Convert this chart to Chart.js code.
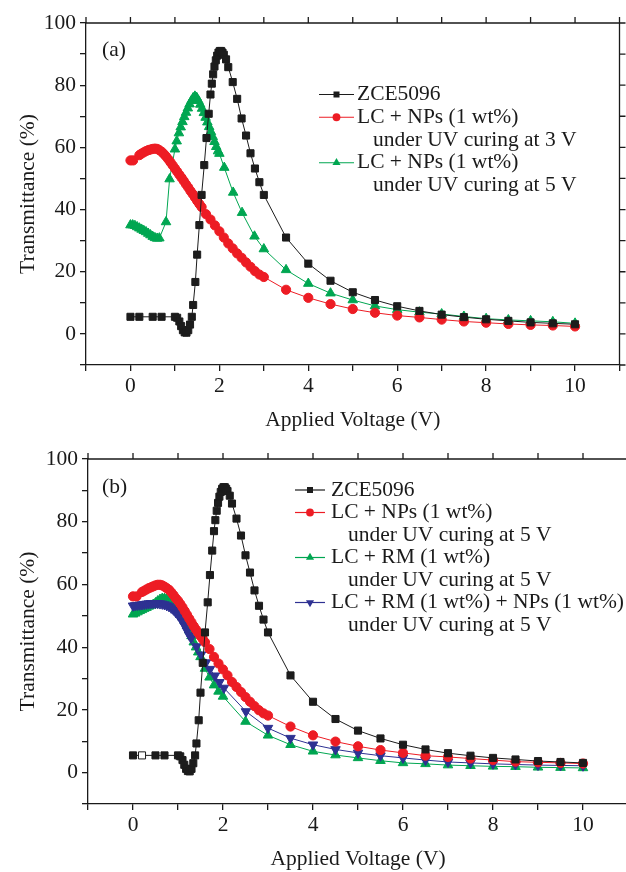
<!DOCTYPE html>
<html>
<head>
<meta charset="utf-8">
<script src="https://cdn.jsdelivr.net/npm/chart.js@4.4.1/dist/chart.umd.min.js"></script>
<style>
  html, body { margin: 0; padding: 0; background: #fff; overflow: hidden; width: 626px; height: 872px; }
  #wrapA { position: absolute; left: 0; top: 0; width: 626px; height: 436px; }
  #wrapB { position: absolute; left: 0; top: 436px; width: 640px; height: 436px; }
</style>
</head>
<body>
<div id="wrapA"><canvas id="chartA" width="626" height="436"></canvas></div>
<div id="wrapB"><canvas id="chartB" width="640" height="436"></canvas></div>
<script>
// ZCE5096 (same host LC in both panels)
const blackV = [0, 0.2, 0.5, 0.7, 1.0, 1.05, 1.1, 1.14, 1.18, 1.22, 1.26, 1.3, 1.34, 1.38, 1.41, 1.46, 1.5, 1.55, 1.6, 1.66, 1.71, 1.76, 1.8, 1.83, 1.86, 1.89, 1.92, 1.95, 1.98, 2.01, 2.04, 2.07, 2.1, 2.15, 2.2, 2.3, 2.4, 2.5, 2.6, 2.7, 2.8, 2.9, 3.0, 3.5, 4.0, 4.5, 5.0, 5.5, 6.0, 6.5, 7.0, 7.5, 8.0, 8.5, 9.0, 9.5, 10];
const blackT = [5.5, 5.5, 5.5, 5.5, 5.5, 5.2, 4.0, 2.5, 1.2, 0.5, 0.4, 1.2, 3.0, 5.5, 9.3, 16.7, 25.5, 35, 44.7, 54.3, 63, 70.8, 77, 80.5, 83.5, 86, 88, 89.5, 90.5, 91, 91, 90.5, 89.8, 88.3, 85.8, 81, 75.6, 69.3, 63.8, 58.1, 53.2, 48.8, 44.7, 31, 22.6, 17.1, 13.4, 10.9, 8.9, 7.4, 6.2, 5.4, 4.7, 4.2, 3.7, 3.4, 3.1];

// panel (a): LC + NPs cured at 3 V
const redAV = [0, 0.06, 0.2, 0.25, 0.3, 0.35, 0.4, 0.45, 0.5, 0.55, 0.6, 0.65, 0.7, 0.75, 0.8, 0.85, 0.9, 0.95, 1.0, 1.05, 1.1, 1.15, 1.2, 1.25, 1.3, 1.35, 1.4, 1.45, 1.5, 1.55, 1.6, 1.7, 1.8, 1.9, 2.0, 2.1, 2.2, 2.3, 2.4, 2.5, 2.6, 2.7, 2.8, 2.9, 3.0, 3.5, 4.0, 4.5, 5.0, 5.5, 6.0, 6.5, 7.0, 7.5, 8.0, 8.5, 9.0, 9.5, 10];
const redAT = [55.8, 55.8, 57.5, 58, 58.4, 58.8, 59.1, 59.3, 59.5, 59.6, 59.5, 59.1, 58.6, 57.9, 57.1, 56.2, 55.2, 54.2, 53.2, 52.2, 51.2, 50.2, 49.2, 48.1, 47.1, 46, 45, 43.9, 42.8, 41.8, 40.8, 38.5, 36.8, 34.9, 33, 31, 29.1, 27.5, 25.9, 24.5, 23, 21.6, 20.2, 19.1, 18.3, 14.2, 11.6, 9.6, 8.0, 6.8, 5.9, 5.3, 4.6, 4.0, 3.6, 3.2, 2.9, 2.7, 2.4];

// panel (a): LC + NPs cured at 5 V
const greenAV = [0, 0.05, 0.1, 0.15, 0.2, 0.25, 0.3, 0.35, 0.4, 0.45, 0.5, 0.55, 0.6, 0.65, 0.8, 0.88, 1.0, 1.04, 1.09, 1.13, 1.17, 1.21, 1.25, 1.29, 1.33, 1.37, 1.41, 1.45, 1.49, 1.53, 1.57, 1.61, 1.65, 1.69, 1.73, 1.77, 1.81, 1.85, 1.89, 1.93, 1.97, 2.0, 2.11, 2.31, 2.51, 2.79, 3.0, 3.5, 4.0, 4.5, 5.0, 5.5, 6.0, 6.5, 7.0, 7.5, 8.0, 8.5, 9.0, 9.5, 10];
const greenAT = [35, 35, 34.8, 34.4, 34, 33.6, 33.2, 32.8, 32.3, 31.8, 31.3, 30.9, 30.7, 30.8, 36, 49.8, 59.4, 62, 64.6, 66.5, 68.2, 69.8, 71.2, 72.6, 73.9, 75, 75.9, 76.4, 76, 75, 73.8, 72.5, 71.1, 69.6, 68.1, 66.6, 65, 63.4, 61.8, 60.2, 58.8, 58, 53.5, 45.5, 39, 31.4, 27.3, 20.6, 16.2, 13.1, 10.9, 9.0, 7.8, 7.0, 6.4, 5.6, 4.9, 4.5, 4.2, 3.9, 3.4];

// panel (b): LC + NPs cured at 5 V
const redBV = [0, 0.08, 0.2, 0.25, 0.3, 0.35, 0.4, 0.45, 0.5, 0.55, 0.6, 0.65, 0.7, 0.75, 0.8, 0.85, 0.9, 0.95, 1.0, 1.05, 1.1, 1.15, 1.2, 1.25, 1.3, 1.35, 1.4, 1.45, 1.5, 1.55, 1.6, 1.7, 1.8, 1.9, 2.0, 2.1, 2.2, 2.3, 2.4, 2.5, 2.6, 2.7, 2.8, 2.9, 3.0, 3.5, 4.0, 4.5, 5.0, 5.5, 6.0, 6.5, 7.0, 7.5, 8.0, 8.5, 9.0, 9.5, 10];
const redBT = [56.2, 56.2, 57.6, 58, 58.4, 58.8, 59.1, 59.4, 59.7, 59.9, 59.9, 59.7, 59.3, 58.8, 58.3, 57.5, 56.6, 55.6, 54.8, 53.8, 52.7, 51.5, 50.3, 49.1, 47.9, 46.7, 45.6, 44.5, 43.6, 42.6, 41.6, 39.4, 36.9, 34.8, 32.9, 31, 28.9, 27.3, 25.7, 24.1, 22.6, 21.2, 19.9, 18.9, 18.2, 14.7, 11.9, 9.9, 8.4, 7.2, 6.3, 5.4, 5.0, 4.5, 4.0, 3.5, 3.3, 3.1, 2.9];

// panel (b): LC + RM cured at 5 V
const greenBV = [0, 0.05, 0.1, 0.15, 0.2, 0.25, 0.3, 0.35, 0.4, 0.45, 0.5, 0.55, 0.6, 0.65, 0.7, 0.75, 0.8, 0.85, 0.9, 0.95, 1.0, 1.05, 1.1, 1.15, 1.2, 1.25, 1.3, 1.35, 1.4, 1.45, 1.5, 1.6, 1.7, 1.8, 1.9, 2.0, 2.5, 3.0, 3.5, 4.0, 4.5, 5.0, 5.5, 6.0, 6.5, 7.0, 7.5, 8.0, 8.5, 9.0, 9.5, 10];
const greenBT = [50.5, 50.8, 51.2, 51.6, 51.9, 52.3, 52.6, 53, 53.3, 53.6, 54.1, 54.7, 55.2, 55.5, 55.5, 55.2, 54.8, 54.4, 53.8, 52.9, 51.9, 50.8, 49.6, 48.3, 46.9, 45.4, 43.6, 41.6, 40, 38.4, 36.9, 33.2, 30.4, 27.9, 25.9, 24.3, 16.3, 11.9, 8.9, 6.8, 5.6, 4.7, 3.8, 3.1, 2.8, 2.4, 2.2, 2.0, 1.9, 1.7, 1.6, 1.5];

// panel (b): LC + RM + NPs cured at 5 V
const blueBV = [0, 0.05, 0.1, 0.15, 0.2, 0.25, 0.3, 0.35, 0.4, 0.45, 0.5, 0.55, 0.6, 0.65, 0.7, 0.75, 0.8, 0.85, 0.9, 0.95, 1.0, 1.05, 1.1, 1.15, 1.2, 1.25, 1.29, 1.41, 1.51, 1.62, 1.71, 1.82, 1.92, 2.02, 2.51, 3.0, 3.5, 4.0, 4.5, 5.0, 5.5, 6.0, 6.5, 7.0, 7.5, 8.0, 8.5, 9.0, 9.5, 10];
const blueBT = [53.2, 53.3, 53.4, 53.5, 53.6, 53.7, 53.8, 53.9, 54, 54, 54, 54, 53.9, 53.8, 53.6, 53.3, 53, 52.5, 51.9, 51.1, 50.3, 49.3, 48.1, 46.8, 45.3, 43.9, 42.9, 40.2, 37.6, 35.1, 33, 30.9, 28.8, 27, 19.5, 14.2, 11, 8.9, 7.4, 6.3, 5.4, 4.7, 4.0, 3.4, 3.1, 2.8, 2.6, 2.4, 2.3, 2.2];

const legendA = [
  ['ZCE5096'],
  ['LC + NPs (1 wt%)', 'under UV curing at 3 V'],
  ['LC + NPs (1 wt%)', 'under UV curing at 5 V']
];
const legendB = [
  ['ZCE5096'],
  ['LC + NPs (1 wt%)', 'under UV curing at 5 V'],
  ['LC + RM (1 wt%)', 'under UV curing at 5 V'],
  ['LC + RM (1 wt%) + NPs (1 wt%)', 'under UV curing at 5 V']
];

const FONT = "'Liberation Serif', 'Times New Roman', serif";
const INK = '#1a1a1a';
const BLACK = '#1c1c1c', RED = '#ed1c24', GREEN = '#00a651', BLUE = '#2e3192';

function pts(xs, ys) {
  return xs.map((x, i) => ({ x: x, y: ys[i] }));
}

function series(xs, ys, color, style, radius, order, extra) {
  return Object.assign({
    data: pts(xs, ys),
    borderColor: color,
    backgroundColor: color,
    borderWidth: 1,
    pointStyle: style,
    pointRadius: radius,
    pointBorderWidth: 1,
    pointBorderColor: color,
    pointBackgroundColor: color,
    tension: 0,
    order: order
  }, extra || {});
}

function marker(ctx, style, x, y, r, rot) {
  ctx.beginPath();
  if (style === 'rect') {
    const s = r * Math.SQRT1_2;
    ctx.rect(x - s, y - s, 2 * s, 2 * s);
  } else if (style === 'circle') {
    ctx.arc(x, y, r, 0, Math.PI * 2);
  } else {
    const d = rot ? -1 : 1;
    const h = r * 0.866;
    ctx.moveTo(x, y - d * r);
    ctx.lineTo(x - h, y + d * r / 2);
    ctx.lineTo(x + h, y + d * r / 2);
    ctx.closePath();
  }
  ctx.fill();
}

// box frame with ticks on the top and right edges
const framePlugin = {
  id: 'frame',
  afterDraw(chart) {
    const { ctx, chartArea: a, scales } = chart;
    const x = scales.x, y = scales.y;
    ctx.save();
    ctx.strokeStyle = INK;
    ctx.lineWidth = 1.3;
    ctx.beginPath();
    ctx.moveTo(a.left, a.top);
    ctx.lineTo(a.right, a.top);
    ctx.lineTo(a.right, a.bottom);
    x.ticks.forEach(t => {
      const px = x.getPixelForValue(t.value);
      ctx.moveTo(px, a.top);
      ctx.lineTo(px, a.top - 6);
    });
    y.ticks.forEach(t => {
      const py = y.getPixelForValue(t.value);
      ctx.moveTo(a.right, py);
      ctx.lineTo(a.right + 6, py);
    });
    ctx.stroke();
    ctx.restore();
  }
};

// legend drawn as text beside short line + marker samples
const notePlugin = {
  id: 'note',
  afterDraw(chart, args, o) {
    const ctx = chart.ctx;
    ctx.save();
    ctx.font = '21.5px ' + FONT;
    ctx.textBaseline = 'middle';
    ctx.fillStyle = INK;
    ctx.textAlign = 'left';
    ctx.fillText(o.tag, o.tagX, o.tagY);
    let yy = o.y0;
    o.rows.forEach((lines, i) => {
      const ds = chart.data.datasets[i];
      ctx.strokeStyle = ds.borderColor;
      ctx.lineWidth = 1.2;
      ctx.beginPath();
      ctx.moveTo(o.x0, yy);
      ctx.lineTo(o.x1, yy);
      ctx.stroke();
      ctx.fillStyle = ds.borderColor;
      marker(ctx, ds.pointStyle, (o.x0 + o.x1) / 2, yy, ds.pointRadius * 0.85, ds.pointRotation);
      ctx.fillStyle = INK;
      lines.forEach((txt, k) => {
        ctx.fillText(txt, k === 0 ? o.tx : o.tx2, yy);
        yy += o.dy;
      });
    });
    ctx.restore();
  }
};

function makeChart(id, datasets, cfg) {
  return new Chart(document.getElementById(id), {
    type: 'line',
    data: { datasets: datasets },
    plugins: [framePlugin, notePlugin],
    options: {
      responsive: false,
      animation: false,
      devicePixelRatio: 1,
      layout: { padding: { left: 0, right: cfg.padRight, top: 23, bottom: 0 } },
      plugins: {
        legend: { display: false },
        tooltip: { enabled: false },
        note: cfg.note
      },
      scales: {
        x: {
          type: 'linear',
          min: -1,
          max: 11,
          afterFit: s => { s.height = cfg.xHeight; },
          ticks: {
            stepSize: 1,
            autoSkip: false,
            maxRotation: 0,
            padding: 2,
            color: INK,
            font: { family: FONT, size: 21.5 },
            callback: v => (v >= 0 && v <= 10 && v % 2 === 0) ? String(v) : ''
          },
          grid: { drawOnChartArea: false, drawTicks: true, tickLength: 6, color: INK, lineWidth: 1.3 },
          border: { display: true, color: INK, width: 1.3 },
          title: {
            display: true,
            text: 'Applied Voltage (V)',
            color: INK,
            font: { family: FONT, size: 21.5 },
            padding: { top: 0, bottom: cfg.xTitlePad }
          }
        },
        y: {
          min: -10,
          max: 100,
          afterFit: s => { s.width = cfg.yWidth; },
          ticks: {
            stepSize: 10,
            autoSkip: false,
            padding: 4,
            color: INK,
            font: { family: FONT, size: 21.5 },
            callback: v => (v >= 0 && v % 20 === 0) ? String(v) : ''
          },
          grid: { drawOnChartArea: false, drawTicks: true, tickLength: 6, color: INK, lineWidth: 1.3 },
          border: { display: true, color: INK, width: 1.3 },
          title: {
            display: true,
            text: 'Transmittance (%)',
            color: INK,
            font: { family: FONT, size: 21.5 },
            padding: { top: 15, bottom: 0 }
          }
        }
      }
    }
  });
}

makeChart('chartA', [
  series(blackV, blackT, BLACK, 'rect', 5, 0),
  series(redAV, redAT, RED, 'circle', 4.6, 1),
  series(greenAV, greenAT, GREEN, 'triangle', 5.5, 2)
], {
  padRight: 6, xHeight: 71, yWidth: 86, xTitlePad: 3,
  note: { tag: '(a)', tagX: 102, tagY: 50, rows: legendA, x0: 319, x1: 354, tx: 357, tx2: 373, y0: 94.5, dy: 22.75 }
});

makeChart('chartB', [
  series(blackV, blackT, BLACK, 'rect', 5, 0, { pointBackgroundColor: blackV.map((v, i) => i === 1 ? '#ffffff' : BLACK) }),
  series(redBV, redBT, RED, 'circle', 4.6, 1),
  series(greenBV, greenBT, GREEN, 'triangle', 5.5, 3),
  series(blueBV, blueBT, BLUE, 'triangle', 5.5, 2, { pointRotation: 180 })
], {
  padRight: 12, xHeight: 68, yWidth: 88, xTitlePad: 0,
  note: { tag: '(b)', tagX: 102, tagY: 51, rows: legendB, x0: 295, x1: 325, tx: 331, tx2: 348, y0: 54, dy: 22.5 }
});
</script>
</body>
</html>
